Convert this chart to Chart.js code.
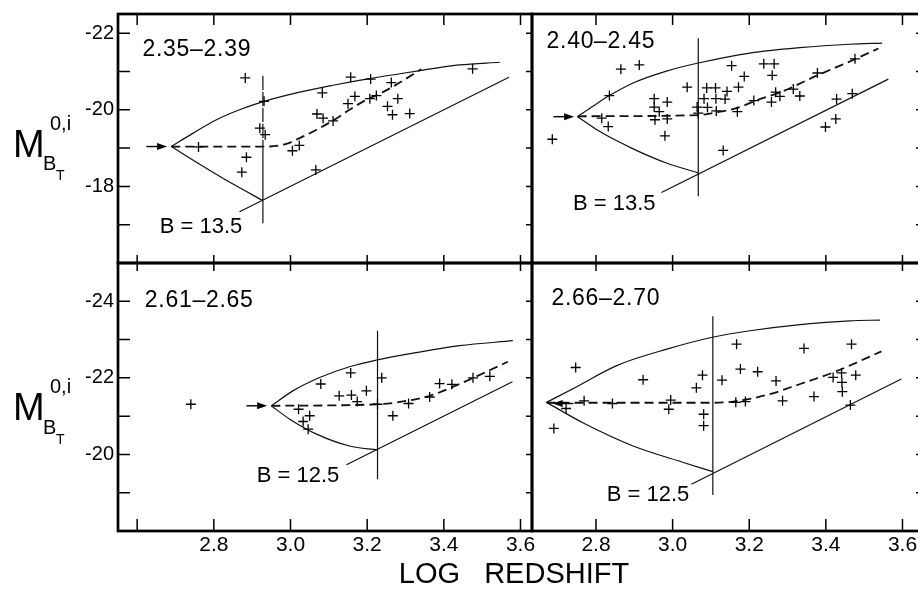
<!DOCTYPE html>
<html>
<head>
<meta charset="utf-8">
<script src="https://cdn.jsdelivr.net/npm/chart.js@4.4.1/dist/chart.umd.min.js"></script>
<style>
  html, body { margin: 0; padding: 0; background: #fff; }
  #fig { position: relative; width: 918px; height: 591px; overflow: hidden; background: #fff; }
  #fig canvas { position: absolute; }
</style>
</head>
<body>
<div id="fig">
  <canvas id="tl" width="560" height="300" style="left:0;top:-20px"></canvas>
  <canvas id="tr" width="440" height="300" style="left:510px;top:-20px"></canvas>
  <canvas id="bl" width="700" height="351" style="left:0;top:240px"></canvas>
  <canvas id="br" width="440" height="351" style="left:510px;top:240px"></canvas>
</div>
<script>
// ---- axes ----
const xRangeLeft = [2.55, 3.63];
const xRangeRight = [2.633, 3.664];
const yRangeTop = [-22.5, -16];
const yRangeBottom = [-25, -18];

const xTicksLeft = [2.6, 2.8, 3.0, 3.2, 3.4, 3.6];
const xTickLabelsLeft = ['', '2.8', '3.0', '3.2', '3.4', '3.6'];
const xTicksRight = [2.8, 3.0, 3.2, 3.4, 3.6];
const xTickLabelsRight = ['2.8', '3.0', '3.2', '3.4', '3.6'];
const yTicksTop = [-22, -21, -20, -19, -18, -17];
const yTickLabelsTop = ['-22', '', '-20', '', '-18', ''];
const yTicksBottom = [-24, -23, -22, -21, -20, -19];
const yTickLabelsBottom = ['-24', '', '-22', '', '-20', ''];

const binLabels = ['2.35\u20132.39', '2.40\u20132.45', '2.61\u20132.65', '2.66\u20132.70'];
const limitLabels = ['B = 13.5', 'B = 13.5', 'B = 12.5', 'B = 12.5'];

// ---- bin 2.35-2.39 : galaxies [log cz, M] ----
const galaxies_235 = [
  [2.882,-20.83],[2.931,-20.22],[2.920,-19.52],[2.934,-19.35],[2.885,-18.76],[2.873,-18.37],
  [2.760,-19.03],[3.005,-18.93],[3.023,-19.07],[3.083,-20.44],[3.069,-19.89],[3.085,-19.78],
  [3.111,-19.71],[3.066,-18.43],[3.157,-20.85],[3.150,-20.16],[3.168,-20.35],[3.209,-20.80],
  [3.207,-20.29],[3.224,-20.37],[3.263,-20.71],[3.253,-20.09],[3.266,-19.87],[3.280,-20.29],
  [3.311,-19.90],[3.475,-21.07]
];
const upper_235 = [[2.689,-19.04],[2.746,-19.39],[2.807,-19.74],[2.867,-20.00],[2.931,-20.22],[3.024,-20.46],
  [3.111,-20.64],[3.198,-20.80],[3.285,-20.94],[3.350,-21.04],[3.441,-21.17],[3.546,-21.24]];
const lower_235 = [[2.689,-19.04],[2.763,-18.58],[2.850,-18.06],[2.928,-17.63]];
const mean_235 = [[2.689,-19.04],[2.937,-19.04],[2.989,-19.11],[3.024,-19.26],[3.068,-19.48],[3.111,-19.72],
  [3.154,-20.00],[3.198,-20.26],[3.241,-20.46],[3.285,-20.71],[3.341,-21.06]];
const limit_235 = [[2.867,-17.34],[3.570,-20.85]];
const cut_235 = [[2.928,-20.89],[2.928,-19.04],[2.928,-17.04]];
const arrow_235 = [[2.624,-19.04],[2.678,-19.04]];

// ---- bin 2.40-2.45 ----
const galaxies_240 = [
  [2.686,-19.23],[2.835,-20.37],[2.865,-21.06],[2.913,-21.17],[2.815,-19.78],[2.832,-19.56],
  [2.952,-20.29],[2.952,-20.07],[2.965,-19.95],[2.954,-19.74],[2.986,-20.20],[2.986,-19.76],
  [2.980,-19.32],[3.038,-20.59],[3.064,-20.07],[3.067,-19.91],[3.082,-20.29],[3.089,-20.57],
  [3.112,-20.57],[3.113,-20.29],[3.091,-20.06],[3.114,-19.97],[3.142,-20.48],[3.137,-20.28],
  [3.154,-21.15],[3.172,-20.59],[3.187,-20.87],[3.132,-18.94],[3.169,-19.95],[3.212,-20.24],
  [3.238,-21.20],[3.265,-21.20],[3.260,-20.90],[3.269,-20.46],[3.258,-20.20],[3.280,-20.35],
  [3.315,-20.54],[3.332,-20.36],[3.378,-20.96],[3.428,-20.28],[3.469,-20.42],[3.476,-21.33],
  [3.399,-19.55],[3.426,-19.76]
];
const upper_240 = [[2.752,-19.82],[2.793,-20.10],[2.835,-20.37],[2.897,-20.70],[2.984,-21.01],[3.067,-21.22],
  [3.202,-21.48],[3.332,-21.62],[3.463,-21.71],[3.547,-21.74]];
const lower_240 = [[2.752,-19.82],[2.810,-19.43],[2.897,-18.98],[2.984,-18.61],[3.067,-18.35]];
const mean_240 = [[2.752,-19.83],[3.067,-19.86],[3.114,-19.93],[3.166,-20.04],[3.218,-20.24],[3.289,-20.49],
  [3.376,-20.89],[3.476,-21.32],[3.537,-21.60]];
const limit_240 = [[2.971,-17.84],[3.563,-20.80]];
const cut_240 = [[3.067,-21.87],[3.067,-17.74]];
const arrow_240 = [[2.689,-19.82],[2.743,-19.82]];

// ---- bin 2.61-2.65 ----
const galaxies_261 = [
  [2.740,-21.31],[3.021,-21.18],[3.033,-20.86],[3.050,-21.01],[3.046,-20.66],[3.079,-21.84],
  [3.127,-21.53],[3.157,-22.13],[3.159,-21.55],[3.174,-21.38],[3.198,-21.66],[3.227,-21.31],
  [3.238,-22.00],[3.267,-21.01],[3.308,-21.33],[3.363,-21.50],[3.389,-21.85],[3.421,-21.83],
  [3.476,-22.00],[3.520,-22.04]
];
const upper_261 = [[2.950,-21.27],[3.006,-21.66],[3.076,-22.01],[3.154,-22.29],[3.227,-22.47],[3.328,-22.66],
  [3.441,-22.84],[3.580,-22.97]];
const lower_261 = [[2.950,-21.27],[2.998,-20.92],[3.068,-20.53],[3.154,-20.22],[3.227,-20.12]];
const mean_261 = [[2.950,-21.27],[3.227,-21.31],[3.285,-21.37],[3.363,-21.53],[3.441,-21.84],[3.567,-22.42]];
const limit_261 = [[3.146,-19.73],[3.579,-21.90]];
const cut_261 = [[3.227,-23.23],[3.227,-19.35]];
const arrow_261 = [[2.885,-21.27],[2.939,-21.27]];

// ---- bin 2.66-2.70 ----
const galaxies_266 = [
  [2.690,-20.68],[2.722,-21.20],[2.747,-22.27],[2.769,-21.40],[2.843,-21.33],[2.923,-21.95],
  [2.995,-21.42],[2.990,-21.18],[3.062,-21.74],[3.078,-22.07],[3.081,-21.05],[3.081,-20.75],
  [3.129,-21.94],[3.165,-21.36],[3.167,-22.88],[3.177,-22.23],[3.190,-21.38],[3.222,-22.16],
  [3.270,-21.92],[3.287,-21.40],[3.343,-22.77],[3.369,-21.51],[3.419,-22.01],[3.441,-22.13],
  [3.442,-21.88],[3.443,-21.64],[3.467,-22.88],[3.478,-22.07],[3.464,-21.29]
];
const upper_266 = [[2.671,-21.36],[2.750,-21.77],[2.854,-22.32],[2.985,-22.75],[3.104,-23.06],[3.202,-23.23],
  [3.333,-23.39],[3.463,-23.49],[3.541,-23.51]];
const lower_266 = [[2.671,-21.36],[2.767,-20.82],[2.897,-20.22],[3.028,-19.79],[3.105,-19.55]];
const mean_266 = [[2.671,-21.35],[3.104,-21.35],[3.158,-21.38],[3.245,-21.55],[3.333,-21.84],[3.419,-22.14],[3.545,-22.69]];
const limit_266 = [[3.049,-19.22],[3.597,-21.97]];
const cut_266 = [[3.105,-23.61],[3.105,-18.94]];
const arrow_266 = [[2.741,-21.33],[2.687,-21.33]];

// ---- drawing ----
const FONT = "'Liberation Sans', Arial, Helvetica, sans-serif";
Chart.defaults.font.family = FONT;
Chart.defaults.color = '#000';

const toXY = arr => arr.map(([x, y]) => ({x, y}));

function curve(arr, extra) {
  return Object.assign({
    data: toXY(arr), showLine: true, pointRadius: 0, pointHoverRadius: 0, pointHitRadius: 0,
    borderColor: '#111', borderWidth: 1.2, tension: 0, fill: false
  }, extra || {});
}

function decorations(p) {
  return {
    id: 'decor',
    afterDatasetsDraw(chart) {
      const ctx = chart.ctx, a = chart.chartArea;
      const X = v => chart.scales.x.getPixelForValue(v);
      const Y = v => chart.scales.y.getPixelForValue(v);
      ctx.save();
      ctx.strokeStyle = '#000';
      ctx.fillStyle = '#000';

      // arrow pointing at the apex
      const [s, e] = p.arrow;
      const x0 = X(s[0]), y0 = Y(s[1]), x1 = X(e[0]), y1 = Y(e[1]);
      const ang = Math.atan2(y1 - y0, x1 - x0), c = Math.cos(ang), sn = Math.sin(ang);
      ctx.lineWidth = 1.4;
      ctx.beginPath(); ctx.moveTo(x0, y0); ctx.lineTo(x1 - 6 * c, y1 - 6 * sn); ctx.stroke();
      ctx.beginPath();
      ctx.moveTo(x1, y1);
      ctx.lineTo(x1 - 10 * c - 3.5 * sn, y1 - 10 * sn + 3.5 * c);
      ctx.lineTo(x1 - 10 * c + 3.5 * sn, y1 - 10 * sn - 3.5 * c);
      ctx.closePath(); ctx.fill();

      // inward tick marks
      ctx.lineWidth = 1.5;
      ctx.beginPath();
      p.xTicks.forEach(v => {
        const px = X(v);
        if (p.tick.top) { ctx.moveTo(px, a.top); ctx.lineTo(px, a.top + p.tick.top); }
        if (p.tick.bottom) { ctx.moveTo(px, a.bottom); ctx.lineTo(px, a.bottom - p.tick.bottom); }
      });
      p.yTicks.forEach(v => {
        const py = Y(v);
        if (p.tick.left) { ctx.moveTo(a.left, py); ctx.lineTo(a.left + p.tick.left, py); }
        if (p.tick.right) { ctx.moveTo(a.right, py); ctx.lineTo(a.right - p.tick.right, py); }
      });
      ctx.stroke();

      // frame
      ctx.lineWidth = 2.7;
      ctx.strokeRect(a.left, a.top, a.right - a.left, a.bottom - a.top);

      // bin and magnitude-limit labels
      ctx.textAlign = 'left';
      ctx.textBaseline = 'middle';
      ctx.font = '23px ' + FONT;
      if ('letterSpacing' in ctx) ctx.letterSpacing = '0.7px';
      ctx.fillText(p.binLabel, X(p.binAt[0]), Y(p.binAt[1]));
      if ('letterSpacing' in ctx) ctx.letterSpacing = '0px';
      ctx.font = '22px ' + FONT;
      ctx.fillText(p.limitLabel, X(p.limitAt[0]), Y(p.limitAt[1]));

      // y axis title  M_{B_T}^{0,i}
      if (p.mTitle) {
        const mx = p.mTitle[0], mb = p.mTitle[1];
        ctx.textBaseline = 'alphabetic';
        ctx.font = '38px ' + FONT;
        ctx.fillText('M', mx, mb);
        ctx.font = '20px ' + FONT;
        ctx.fillText('0,i', mx + 37, mb - 27);
        ctx.fillText('B', mx + 30, mb + 13.5);
        ctx.font = '14px ' + FONT;
        ctx.fillText('T', mx + 43, mb + 23.5);
      }

      // x axis title
      if (p.xTitle) {
        ctx.textAlign = 'center';
        ctx.textBaseline = 'middle';
        ctx.font = '29px ' + FONT;
        if ('wordSpacing' in ctx) ctx.wordSpacing = '16px';
        ctx.fillText('LOG REDSHIFT', p.xTitle[0], p.xTitle[1]);
      }
      ctx.restore();
    }
  };
}

function buildPanel(p) {
  const datasets = [
    { data: toXY(p.galaxies), showLine: false, pointStyle: 'cross', pointRadius: 5,
      pointHoverRadius: 5, pointBorderColor: '#000', pointBorderWidth: 1.3, borderColor: '#000' },
    curve(p.upper, { cubicInterpolationMode: 'monotone' }),
    curve(p.lower, { cubicInterpolationMode: 'monotone' }),
    curve(p.mean, { cubicInterpolationMode: 'monotone', borderDash: [9, 5], borderWidth: 1.8 }),
    curve(p.limit),
    curve(p.cut, p.cutDashed ? { segment: { borderDash: c => (c.p0DataIndex === 0 ? [12, 4] : undefined) } } : {})
  ];
  return new Chart(document.getElementById(p.canvas), {
    type: 'scatter',
    data: { datasets },
    options: {
      responsive: false, animation: false, devicePixelRatio: 1, events: [],
      layout: { padding: p.padding },
      plugins: { legend: { display: false }, tooltip: { enabled: false } },
      scales: {
        x: {
          type: 'linear', position: 'bottom', min: p.xRange[0], max: p.xRange[1], display: p.showX,
          afterBuildTicks: sc => { sc.ticks = p.xTicks.map(v => ({ value: v })); },
          afterFit: sc => { sc.height = p.showX ? 60 : 0; },
          grid: { display: false, drawTicks: false }, border: { display: false },
          ticks: { autoSkip: false, maxRotation: 0, padding: 2, color: '#000', font: { size: 21 },
                   callback: (v, i) => p.xTickLabels[i] }
        },
        y: {
          type: 'linear', position: 'left', reverse: true, min: p.yRange[0], max: p.yRange[1], display: p.showY,
          afterBuildTicks: sc => { sc.ticks = p.yTicks.map(v => ({ value: v })); },
          afterFit: sc => { sc.width = p.showY ? 118 : 0; },
          grid: { display: false, drawTicks: false }, border: { display: false },
          ticks: { autoSkip: false, padding: 4, color: '#000', font: { size: 20 },
                   callback: (v, i) => p.yTickLabels[i] }
        }
      }
    },
    plugins: [decorations(p)]
  });
}

buildPanel({
  canvas: 'tl', galaxies: galaxies_235, upper: upper_235, lower: lower_235, mean: mean_235,
  limit: limit_235, cut: cut_235, cutDashed: true, arrow: arrow_235,
  xRange: xRangeLeft, yRange: yRangeTop, xTicks: xTicksLeft, xTickLabels: xTickLabelsLeft,
  yTicks: yTicksTop, yTickLabels: yTickLabelsTop, showX: false, showY: true,
  padding: { left: 0, right: 28, top: 34, bottom: 17 },
  tick: { top: 11, bottom: 8, left: 12, right: 6 },
  binLabel: binLabels[0], binAt: [2.614, -21.57], limitLabel: limitLabels[0], limitAt: [2.659, -16.95],
  mTitle: [13, 176.7]
});
buildPanel({
  canvas: 'tr', galaxies: galaxies_240, upper: upper_240, lower: lower_240, mean: mean_240,
  limit: limit_240, cut: cut_240, arrow: arrow_240,
  xRange: xRangeRight, yRange: yRangeTop, xTicks: xTicksRight, xTickLabels: xTickLabelsRight,
  yTicks: yTicksTop, yTickLabels: yTickLabelsTop, showX: false, showY: false,
  padding: { left: 22, right: 23, top: 34, bottom: 17 },
  tick: { top: 11, bottom: 8, left: 0, right: 11 },
  binLabel: binLabels[1], binAt: [2.671, -21.78], limitLabel: limitLabels[1], limitAt: [2.740, -17.55]
});
buildPanel({
  canvas: 'bl', galaxies: galaxies_261, upper: upper_261, lower: lower_261, mean: mean_261,
  limit: limit_261, cut: cut_261, arrow: arrow_261,
  xRange: xRangeLeft, yRange: yRangeBottom, xTicks: xTicksLeft, xTickLabels: xTickLabelsLeft,
  yTicks: yTicksBottom, yTickLabels: yTickLabelsBottom, showX: true, showY: true,
  padding: { left: 0, right: 168, top: 23, bottom: 0 },
  tick: { top: 8, bottom: 12, left: 12, right: 6 },
  binLabel: binLabels[2], binAt: [2.620, -24.02], limitLabel: limitLabels[2], limitAt: [2.912, -19.44],
  mTitle: [13, 180], xTitle: [514, 335]
});
buildPanel({
  canvas: 'br', galaxies: galaxies_266, upper: upper_266, lower: lower_266, mean: mean_266,
  limit: limit_266, cut: cut_266, arrow: arrow_266,
  xRange: xRangeRight, yRange: yRangeBottom, xTicks: xTicksRight, xTickLabels: xTickLabelsRight,
  yTicks: yTicksBottom, yTickLabels: yTickLabelsBottom, showX: true, showY: false,
  padding: { left: 22, right: 23, top: 23, bottom: 0 },
  tick: { top: 8, bottom: 12, left: 0, right: 11 },
  binLabel: binLabels[3], binAt: [2.684, -24.06], limitLabel: limitLabels[3], limitAt: [2.828, -18.94]
});
</script>
</body>
</html>
